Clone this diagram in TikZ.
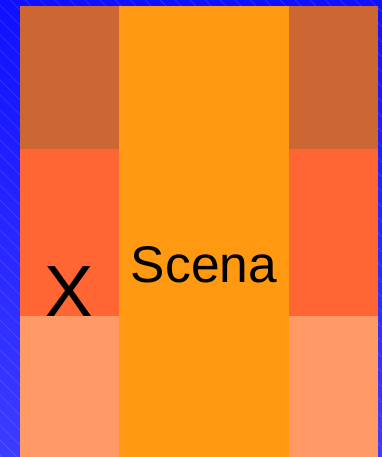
\documentclass[tikz,border=0pt]{standalone}
\usepackage{fontspec}
\setmainfont{Liberation Sans}
\definecolor{bgtop}{HTML}{1010FF}
\definecolor{bgbot}{HTML}{3C3CFF}
\definecolor{cbrown}{HTML}{CC6633}
\definecolor{corange}{HTML}{FF9911}
\definecolor{cred}{HTML}{FF6633}
\definecolor{clight}{HTML}{FF9966}
\tikzset{
  blk/.style={draw=none, inner sep=0pt, outer sep=0pt, anchor=north west},
  lbl/.style={inner sep=0pt, anchor=base, text=black},
}
\begin{document}
\begin{tikzpicture}[x={(1pt,0)}, y={(0,-1pt)}]
\useasboundingbox (0,0) rectangle (382,457);
\shade[top color=bgtop, bottom color=bgbot] (0,0) rectangle (382,457);
\begin{scope}
\clip (0,0) rectangle (382,457);
\foreach \i in {-470,-455,...,380} {
  \draw[white, opacity=0.14, line width=0.7pt] (\i,0) -- ++(460,460);
}
\end{scope}
% left column
\node[blk, fill=cbrown, minimum width=99pt, minimum height=143pt] (lt) at (20,6) {};
\node[blk, fill=cred, minimum width=99pt, minimum height=167pt] (lm) at (20,149) {};
% right column
\node[blk, fill=cbrown, minimum width=89pt, minimum height=143pt] (rt) at (289,6) {};
\node[blk, fill=cred, minimum width=89pt, minimum height=167pt] (rm) at (289,149) {};
% X label (partly covered by the lower box)
\node[lbl, font=\fontsize{74}{74}\selectfont] (xl) at (69.5,317) {X};
\node[blk, fill=clight, minimum width=99pt, minimum height=141pt] (lb) at (20,316) {};
\node[blk, fill=clight, minimum width=89pt, minimum height=141pt] (rb) at (289,316) {};
% middle column
\node[blk, fill=corange, minimum width=170pt, minimum height=451pt] (mid) at (119,6) {};
\node[lbl, font=\fontsize{51.5}{52}\selectfont] (sc) at (204,282) {Scena};
\end{tikzpicture}
\end{document}
